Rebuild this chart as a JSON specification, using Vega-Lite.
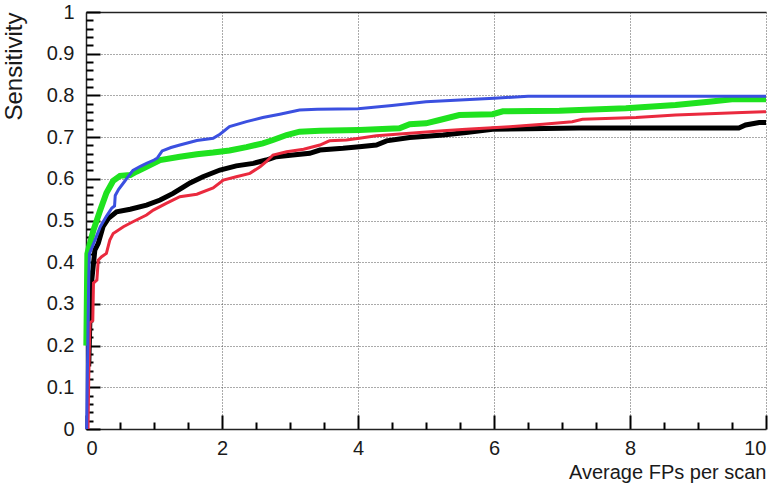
{
  "$schema": "https://vega.github.io/schema/vega-lite/v6.json",
  "width": 680,
  "height": 417,
  "autosize": {"type": "none"},
  "padding": {"left": 86, "top": 12, "right": 14, "bottom": 55},
  "background": "white",
  "config": {"font": "Liberation Sans", "view": {"stroke": null}},
  "data": {
    "values": [
      {"s": "blue", "x": 0.01, "y": 0.0}, {"s": "blue", "x": 0.02, "y": 0.13}, {"s": "blue", "x": 0.03, "y": 0.25}, {"s": "blue", "x": 0.04, "y": 0.36}, {"s": "blue", "x": 0.05, "y": 0.42}, {"s": "blue", "x": 0.1, "y": 0.44}, {"s": "blue", "x": 0.15, "y": 0.46}, {"s": "blue", "x": 0.21, "y": 0.485}, {"s": "blue", "x": 0.3, "y": 0.51}, {"s": "blue", "x": 0.38, "y": 0.53}, {"s": "blue", "x": 0.42, "y": 0.535}, {"s": "blue", "x": 0.43, "y": 0.56}, {"s": "blue", "x": 0.48, "y": 0.575}, {"s": "blue", "x": 0.55, "y": 0.59}, {"s": "blue", "x": 0.62, "y": 0.605}, {"s": "blue", "x": 0.69, "y": 0.62}, {"s": "blue", "x": 0.8, "y": 0.63}, {"s": "blue", "x": 0.89, "y": 0.637}, {"s": "blue", "x": 1.0, "y": 0.645}, {"s": "blue", "x": 1.05, "y": 0.65}, {"s": "blue", "x": 1.12, "y": 0.667}, {"s": "blue", "x": 1.25, "y": 0.675}, {"s": "blue", "x": 1.38, "y": 0.681}, {"s": "blue", "x": 1.63, "y": 0.692}, {"s": "blue", "x": 1.87, "y": 0.697}, {"s": "blue", "x": 1.97, "y": 0.707}, {"s": "blue", "x": 2.11, "y": 0.725}, {"s": "blue", "x": 2.36, "y": 0.737}, {"s": "blue", "x": 2.6, "y": 0.747}, {"s": "blue", "x": 2.85, "y": 0.755}, {"s": "blue", "x": 3.14, "y": 0.765}, {"s": "blue", "x": 3.4, "y": 0.767}, {"s": "blue", "x": 4.0, "y": 0.768}, {"s": "blue", "x": 4.5, "y": 0.776}, {"s": "blue", "x": 5.0, "y": 0.785}, {"s": "blue", "x": 5.5, "y": 0.789}, {"s": "blue", "x": 6.0, "y": 0.793}, {"s": "blue", "x": 6.5, "y": 0.798}, {"s": "blue", "x": 8.0, "y": 0.798}, {"s": "blue", "x": 10.0, "y": 0.798},
      {"s": "green", "x": 0.005, "y": 0.2}, {"s": "green", "x": 0.02, "y": 0.42}, {"s": "green", "x": 0.05, "y": 0.44}, {"s": "green", "x": 0.11, "y": 0.477}, {"s": "green", "x": 0.21, "y": 0.525}, {"s": "green", "x": 0.3, "y": 0.566}, {"s": "green", "x": 0.4, "y": 0.595}, {"s": "green", "x": 0.5, "y": 0.607}, {"s": "green", "x": 0.65, "y": 0.609}, {"s": "green", "x": 0.74, "y": 0.617}, {"s": "green", "x": 0.89, "y": 0.629}, {"s": "green", "x": 1.09, "y": 0.645}, {"s": "green", "x": 1.38, "y": 0.653}, {"s": "green", "x": 1.63, "y": 0.659}, {"s": "green", "x": 1.87, "y": 0.663}, {"s": "green", "x": 2.11, "y": 0.668}, {"s": "green", "x": 2.36, "y": 0.676}, {"s": "green", "x": 2.6, "y": 0.685}, {"s": "green", "x": 2.75, "y": 0.693}, {"s": "green", "x": 2.95, "y": 0.705}, {"s": "green", "x": 3.14, "y": 0.713}, {"s": "green", "x": 3.44, "y": 0.715}, {"s": "green", "x": 4.02, "y": 0.717}, {"s": "green", "x": 4.61, "y": 0.721}, {"s": "green", "x": 4.76, "y": 0.731}, {"s": "green", "x": 5.0, "y": 0.733}, {"s": "green", "x": 5.2, "y": 0.741}, {"s": "green", "x": 5.49, "y": 0.753}, {"s": "green", "x": 5.98, "y": 0.755}, {"s": "green", "x": 6.13, "y": 0.762}, {"s": "green", "x": 6.96, "y": 0.763}, {"s": "green", "x": 7.94, "y": 0.769}, {"s": "green", "x": 8.67, "y": 0.777}, {"s": "green", "x": 9.16, "y": 0.785}, {"s": "green", "x": 9.5, "y": 0.791}, {"s": "green", "x": 10.0, "y": 0.791},
      {"s": "red", "x": 0.03, "y": 0.0}, {"s": "red", "x": 0.04, "y": 0.12}, {"s": "red", "x": 0.05, "y": 0.2}, {"s": "red", "x": 0.06, "y": 0.255}, {"s": "red", "x": 0.1, "y": 0.26}, {"s": "red", "x": 0.11, "y": 0.35}, {"s": "red", "x": 0.16, "y": 0.357}, {"s": "red", "x": 0.18, "y": 0.405}, {"s": "red", "x": 0.23, "y": 0.413}, {"s": "red", "x": 0.3, "y": 0.421}, {"s": "red", "x": 0.35, "y": 0.453}, {"s": "red", "x": 0.4, "y": 0.469}, {"s": "red", "x": 0.55, "y": 0.485}, {"s": "red", "x": 0.69, "y": 0.497}, {"s": "red", "x": 0.89, "y": 0.513}, {"s": "red", "x": 0.99, "y": 0.525}, {"s": "red", "x": 1.18, "y": 0.541}, {"s": "red", "x": 1.38, "y": 0.557}, {"s": "red", "x": 1.63, "y": 0.563}, {"s": "red", "x": 1.87, "y": 0.578}, {"s": "red", "x": 2.02, "y": 0.597}, {"s": "red", "x": 2.21, "y": 0.605}, {"s": "red", "x": 2.41, "y": 0.613}, {"s": "red", "x": 2.56, "y": 0.629}, {"s": "red", "x": 2.65, "y": 0.641}, {"s": "red", "x": 2.75, "y": 0.657}, {"s": "red", "x": 2.95, "y": 0.665}, {"s": "red", "x": 3.2, "y": 0.671}, {"s": "red", "x": 3.44, "y": 0.681}, {"s": "red", "x": 3.58, "y": 0.691}, {"s": "red", "x": 3.83, "y": 0.693}, {"s": "red", "x": 4.02, "y": 0.697}, {"s": "red", "x": 4.27, "y": 0.703}, {"s": "red", "x": 4.76, "y": 0.709}, {"s": "red", "x": 5.25, "y": 0.715}, {"s": "red", "x": 5.59, "y": 0.719}, {"s": "red", "x": 6.23, "y": 0.725}, {"s": "red", "x": 6.72, "y": 0.731}, {"s": "red", "x": 7.15, "y": 0.737}, {"s": "red", "x": 7.3, "y": 0.743}, {"s": "red", "x": 8.09, "y": 0.747}, {"s": "red", "x": 8.67, "y": 0.753}, {"s": "red", "x": 9.65, "y": 0.759}, {"s": "red", "x": 10.0, "y": 0.761},
      {"s": "black", "x": 0.04, "y": 0.15}, {"s": "black", "x": 0.06, "y": 0.277}, {"s": "black", "x": 0.08, "y": 0.349}, {"s": "black", "x": 0.11, "y": 0.397}, {"s": "black", "x": 0.13, "y": 0.429}, {"s": "black", "x": 0.18, "y": 0.445}, {"s": "black", "x": 0.25, "y": 0.485}, {"s": "black", "x": 0.33, "y": 0.505}, {"s": "black", "x": 0.45, "y": 0.521}, {"s": "black", "x": 0.65, "y": 0.527}, {"s": "black", "x": 0.89, "y": 0.537}, {"s": "black", "x": 1.09, "y": 0.549}, {"s": "black", "x": 1.28, "y": 0.565}, {"s": "black", "x": 1.43, "y": 0.58}, {"s": "black", "x": 1.53, "y": 0.59}, {"s": "black", "x": 1.72, "y": 0.605}, {"s": "black", "x": 1.97, "y": 0.621}, {"s": "black", "x": 2.21, "y": 0.631}, {"s": "black", "x": 2.46, "y": 0.637}, {"s": "black", "x": 2.65, "y": 0.645}, {"s": "black", "x": 2.8, "y": 0.653}, {"s": "black", "x": 3.04, "y": 0.657}, {"s": "black", "x": 3.29, "y": 0.661}, {"s": "black", "x": 3.44, "y": 0.669}, {"s": "black", "x": 3.78, "y": 0.673}, {"s": "black", "x": 4.02, "y": 0.677}, {"s": "black", "x": 4.27, "y": 0.681}, {"s": "black", "x": 4.42, "y": 0.691}, {"s": "black", "x": 4.76, "y": 0.699}, {"s": "black", "x": 5.25, "y": 0.705}, {"s": "black", "x": 5.59, "y": 0.711}, {"s": "black", "x": 5.98, "y": 0.719}, {"s": "black", "x": 6.5, "y": 0.72}, {"s": "black", "x": 7.25, "y": 0.722}, {"s": "black", "x": 9.6, "y": 0.722}, {"s": "black", "x": 9.7, "y": 0.729}, {"s": "black", "x": 9.9, "y": 0.735}, {"s": "black", "x": 10.0, "y": 0.735}
    ]
  },
  "layer": [
    {
      "encoding": {
        "x": {
          "field": "x", "type": "quantitative",
          "scale": {"domain": [0, 10], "nice": false, "zero": false},
          "axis": {
            "orient": "bottom", "values": [0, 2, 4, 6, 8, 10], "format": "d",
            "grid": true, "gridDash": [1, 2], "gridColor": "#555",
            "domain": true, "domainColor": "#222", "domainWidth": 1.5,
            "ticks": true, "tickSize": -14, "tickColor": "#000000", "tickWidth": 2,
            "labelPadding": 23, "labelFontSize": 20, "labelColor": "#1a1a1a",
            "title": "Average FPs per scan", "titleFontSize": 20, "titleFontWeight": "normal", "titleColor": "#1a1a1a", "titleAnchor": "end", "titlePadding": 4
          }
        },
        "y": {
          "field": "y", "type": "quantitative",
          "scale": {"domain": [0, 1], "nice": false},
          "axis": {
            "orient": "left", "values": [0, 0.1, 0.2, 0.3, 0.4, 0.5, 0.6, 0.7, 0.8, 0.9, 1], "format": "~g",
            "grid": true, "gridDash": [1, 2], "gridColor": "#555",
            "domain": true, "domainColor": "#222", "domainWidth": 1.5,
            "ticks": true, "tickSize": -14, "tickColor": "#000000", "tickWidth": 2,
            "labelPadding": 26, "labelFontSize": 20, "labelColor": "#1a1a1a",
            "title": "Sensitivity", "titleFontSize": 24, "titleFontWeight": "normal", "titleColor": "#1a1a1a", "titleAnchor": "end", "titlePadding": 20
          }
        }
      },
      "layer": [
        {"transform": [{"filter": "datum.s === 'black'"}], "mark": {"type": "line", "color": "#000000", "strokeWidth": 5}},
        {"transform": [{"filter": "datum.s === 'green'"}], "mark": {"type": "line", "color": "#1fe21f", "strokeWidth": 6}},
        {"transform": [{"filter": "datum.s === 'red'"}], "mark": {"type": "line", "color": "#ea2a3e", "strokeWidth": 3}},
        {"transform": [{"filter": "datum.s === 'blue'"}], "mark": {"type": "line", "color": "#3b50e0", "strokeWidth": 3}}
      ]
    },
    {
      "mark": {"type": "point", "opacity": 0},
      "encoding": {
        "x": {
          "field": "x", "type": "quantitative",
          "scale": {"domain": [0, 10], "nice": false, "zero": false},
          "axis": {"orient": "bottom", "offset": -7, "values": [0.5, 1, 1.5, 2.5, 3, 3.5, 4.5, 5, 5.5, 6.5, 7, 7.5, 8.5, 9, 9.5], "labels": false, "grid": false, "domain": false, "tickSize": 7, "tickColor": "#000000", "tickWidth": 2, "title": null}
        },
        "y": {
          "field": "y", "type": "quantitative",
          "scale": {"domain": [0, 1], "nice": false},
          "axis": {"orient": "left", "offset": -7, "values": [0.02, 0.04, 0.06, 0.08, 0.12, 0.14, 0.16, 0.18, 0.22, 0.24, 0.26, 0.28, 0.32, 0.34, 0.36, 0.38, 0.42, 0.44, 0.46, 0.48, 0.52, 0.54, 0.56, 0.58, 0.62, 0.64, 0.66, 0.68, 0.72, 0.74, 0.76, 0.78, 0.82, 0.84, 0.86, 0.88, 0.92, 0.94, 0.96, 0.98], "labels": false, "grid": false, "domain": false, "tickSize": 7, "tickColor": "#000000", "tickWidth": 2, "title": null}
        }
      }
    },
    {
      "mark": {"type": "point", "opacity": 0},
      "encoding": {
        "x": {
          "field": "x", "type": "quantitative",
          "scale": {"domain": [0, 10], "nice": false, "zero": false},
          "axis": {"orient": "top", "domain": true, "domainColor": "#222", "domainWidth": 1.5, "grid": false, "ticks": false, "labels": false, "title": null}
        }
      }
    }
  ],
  "resolve": {"axis": {"x": "independent", "y": "independent"}}
}
